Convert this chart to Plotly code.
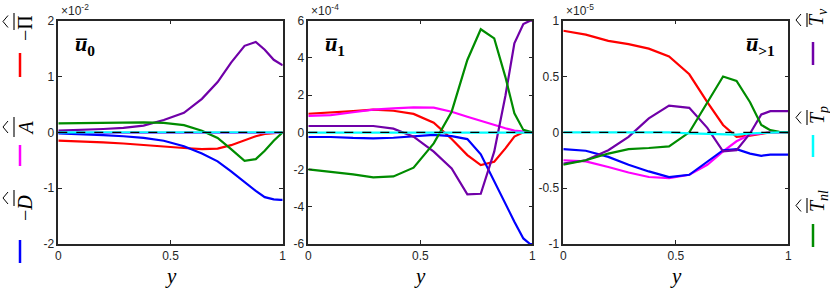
import plotly.graph_objects as go

# common wall-normal grid
y_grid = [0, 0.1, 0.2, 0.29, 0.38, 0.47, 0.56, 0.64, 0.71, 0.77, 0.83, 0.88, 0.92, 0.96, 0.99, 1.0]

# Panel u0 (x1e-2)
u0_D  = [-0.02, -0.03, -0.05, -0.07, -0.10, -0.15, -0.25, -0.38, -0.52, -0.70, -0.90, -1.05, -1.16, -1.20, -1.21, -1.21]
u0_A  = [-0.01]*16
u0_Pi = [-0.15, -0.16, -0.18, -0.20, -0.23, -0.26, -0.28, -0.30, -0.29, -0.23, -0.14, -0.07, -0.03, -0.01, 0.0, 0.0]
u0_Tv = [0.03, 0.04, 0.06, 0.08, 0.12, 0.22, 0.35, 0.60, 0.90, 1.25, 1.55, 1.62, 1.48, 1.30, 1.22, 1.20]
u0_Tp = [0.0]*16
u0_Tnl = [0.16, 0.165, 0.17, 0.175, 0.18, 0.17, 0.13, 0.03, -0.10, -0.30, -0.51, -0.48, -0.33, -0.15, -0.04, 0.0]

# Panel u1 (x1e-4)
u1_D  = [-0.25, -0.25, -0.30, -0.32, -0.29, -0.23, -0.14, -0.20, -0.36, -1.18, -2.65, -3.90, -4.80, -5.70, -6.0, -6.0]
u1_A  = [0.88, 0.93, 1.08, 1.22, 1.29, 1.34, 1.33, 1.11, 0.84, 0.61, 0.39, 0.22, 0.09, 0.04, 0.01, 0.0]
u1_Pi = [1.0, 1.06, 1.14, 1.22, 1.16, 0.99, 0.52, -0.36, -1.22, -1.76, -1.58, -0.86, -0.23, 0.0, 0.0, 0.0]
u1_Tv = [0.34, 0.34, 0.34, 0.34, 0.20, -0.23, -1.04, -1.94, -3.33, -3.30, -1.04, 1.97, 4.78, 5.82, 6.0, 6.0]
u1_Tp = [-0.02]*16
u1_Tnl = [-1.99, -2.11, -2.26, -2.42, -2.37, -1.90, -0.59, 1.11, 3.89, 5.54, 5.05, 2.97, 1.02, 0.13, 0.03, 0.0]

# Panel u>1 (x1e-5)
u2_D  = [-0.15, -0.165, -0.22, -0.29, -0.35, -0.40, -0.38, -0.26, -0.16, -0.15, -0.19, -0.21, -0.20, -0.20, -0.20, -0.20]
u2_A  = [-0.25, -0.26, -0.31, -0.36, -0.40, -0.41, -0.38, -0.29, -0.17, -0.08, -0.02, -0.01, 0.0, 0.0, 0.0, 0.0]
u2_Pi = [0.91, 0.875, 0.82, 0.79, 0.75, 0.68, 0.52, 0.27, 0.066, -0.04, -0.03, -0.01, 0.0, 0.0, 0.0, 0.0]
u2_Tv = [-0.28, -0.25, -0.16, -0.04, 0.125, 0.24, 0.22, 0.04, -0.17, -0.16, -0.01, 0.16, 0.19, 0.19, 0.19, 0.19]
u2_Tp = [0.0, 0.0, 0.0, 0.0, 0.0, 0.0, -0.01, -0.015, -0.02, -0.02, -0.01, -0.005, 0.0, 0.0, 0.0, 0.0]
u2_Tnl = [-0.29, -0.25, -0.19, -0.15, -0.14, -0.125, 0.0, 0.27, 0.50, 0.46, 0.27, 0.066, 0.02, 0.005, 0.0, 0.0]

x_ticks = [0, 0.5, 1]
x_ticktext = ["0", "0.5", "1"]
p1_ticks = [-2, -1, 0, 1, 2]
p2_ticks = [-6, -4, -2, 0, 2, 4, 6]
p3_ticks = [-1, -0.5, 0, 0.5, 1]
exponents = ["-2", "-4", "-5"]

COL = dict(D="#0000ff", A="#ff00ff", Pi="#ff0000", Tv="#7000a8", Tp="#00ffff", Tnl="#008c00")

panels = [
    dict(D=u0_D, A=u0_A, Pi=u0_Pi, Tv=u0_Tv, Tp=u0_Tp, Tnl=u0_Tnl, ticks=p1_ticks, rng=[-2, 2]),
    dict(D=u1_D, A=u1_A, Pi=u1_Pi, Tv=u1_Tv, Tp=u1_Tp, Tnl=u1_Tnl, ticks=p2_ticks, rng=[-6, 6]),
    dict(D=u2_D, A=u2_A, Pi=u2_Pi, Tv=u2_Tv, Tp=u2_Tp, Tnl=u2_Tnl, ticks=p3_ticks, rng=[-1, 1]),
]

W, H = 830, 291
xdoms = [[58.3/W, 282.7/W], [308.3/W, 532.3/W], [563.3/W, 788.3/W]]
ydom = [1 - 244/H, 1 - 20.7/H]

fig = go.Figure()
AXC = "#262626"
tickfont = dict(family="Liberation Sans, Arial, sans-serif", size=12, color=AXC)

for i, p in enumerate(panels):
    xa = "x" if i == 0 else "x%d" % (i + 1)
    ya = "y" if i == 0 else "y%d" % (i + 1)
    for key in ["Pi", "A", "D", "Tv", "Tnl", "Tp"]:
        fig.add_trace(go.Scatter(x=y_grid, y=p[key], mode="lines",
                                 line=dict(color=COL[key], width=2.2),
                                 xaxis=xa, yaxis=ya, showlegend=False, hoverinfo="skip"))
    axn = "" if i == 0 else str(i + 1)
    fig.layout["xaxis" + axn] = dict(domain=xdoms[i], range=[0, 1], anchor=ya, automargin=False,
        tickvals=x_ticks, ticktext=x_ticktext, ticks="inside", ticklen=4, tickcolor=AXC,
        showline=True, linecolor=AXC, linewidth=1.5, mirror="ticks", showgrid=False,
        zeroline=False, tickfont=tickfont)
    fig.layout["yaxis" + axn] = dict(domain=ydom, range=p["rng"], anchor=xa, automargin=False,
        tickvals=p["ticks"], ticktext=["%g" % t for t in p["ticks"]], ticks="inside", ticklen=4,
        tickcolor=AXC, showline=True, linecolor=AXC, linewidth=1.5, mirror="ticks",
        showgrid=False, zeroline=False, tickfont=tickfont)
    # dashed zero reference
    fig.add_shape(type="line", xref=xa + " domain", yref=ya, x0=0, x1=1, y0=0, y1=0,
                  line=dict(color="black", width=1.2, dash="dash"))
    # exponent label
    fig.add_annotation(xref="paper", yref="paper", x=xdoms[i][0] + 1/W, y=ydom[1] + 1/H,
                       xanchor="left", yanchor="bottom", showarrow=False,
                       text="×10<sup>%s</sup>" % exponents[i],
                       font=dict(family="Liberation Sans, Arial", size=12, color=AXC))
    # x-axis title
    fig.add_annotation(xref="paper", yref="paper", x=(xdoms[i][0] + xdoms[i][1]) / 2, y=1 - 276/H,
                       xanchor="center", yanchor="middle", showarrow=False,
                       text="<i>y</i>", font=dict(family="Liberation Serif, serif", size=21, color="black"))

serif = "Liberation Serif, DejaVu Serif, serif"
# panel labels
fig.add_annotation(xref="paper", yref="paper", x=73/W, y=1 - 45/H, xanchor="left", yanchor="middle",
                   showarrow=False, text="<b><i>u\u0305</i><sub>0</sub></b>",
                   font=dict(family=serif, size=22, color="black"))
fig.add_annotation(xref="paper", yref="paper", x=323/W, y=1 - 45/H, xanchor="left", yanchor="middle",
                   showarrow=False, text="<b><i>u\u0305</i><sub>1</sub></b>",
                   font=dict(family=serif, size=22, color="black"))
fig.add_annotation(xref="paper", yref="paper", x=777/W, y=1 - 45/H, xanchor="right", yanchor="middle",
                   showarrow=False, text="<b><i>u\u0305</i><sub>&gt;1</sub></b>",
                   font=dict(family=serif, size=22, color="black"))

# side legends: (text, text centre x, text-bottom y, letter top, letter bottom, bar x, hat tip x, colour key, seg x, seg y0, seg y1)
legend_items = [
    ("−Π", 25, 43, 13, 30, 14, 3, "Pi", 20, 53, 77),
    ("<i>A</i>", 25, 138, 117, 137, 14, 3, "A", 20, 145, 166),
    ("−<i>D</i>", 25, 223, 190, 206, 14, 3, "D", 20, 240, 263),
    ("<i>T</i><sub><i>v</i></sub>", 818, 28, 13, 27, 807, 796, "Tv", 813, 42, 65),
    ("<i>T</i><sub><i>p</i></sub>", 818, 126, 110, 125, 807, 796, "Tp", 813, 135, 157),
    ("<i>T</i><sub><i>nl</i></sub>", 818, 214, 198, 213, 807, 796, "Tnl", 813, 224, 247),
]
for txt, tx, tbot, lt, lb, bx, hx, key, lx, ly0, ly1 in legend_items:
    fig.add_annotation(xref="paper", yref="paper", x=tx/W, y=1 - tbot/H, xanchor="center",
                       yanchor="bottom", showarrow=False, text=txt, textangle=-90,
                       font=dict(family=serif, size=20, color="black"))
    # overline (drawn rotated, left of the letter)
    fig.add_shape(type="line", xref="paper", yref="paper", x0=bx/W, x1=bx/W,
                  y0=1 - lt/H, y1=1 - lb/H, line=dict(color="black", width=1.1))
    # wide hat (rotated)
    yc = (lt + lb) / 2
    path = "M %f,%f L %f,%f L %f,%f" % (
        (hx + 5)/W, 1 - (yc - 6)/H, hx/W, 1 - yc/H, (hx + 5)/W, 1 - (yc + 6)/H)
    fig.add_shape(type="path", xref="paper", yref="paper", path=path,
                  line=dict(color="black", width=1.0))
    fig.add_shape(type="line", xref="paper", yref="paper", x0=lx/W, x1=lx/W,
                  y0=1 - ly0/H, y1=1 - ly1/H, line=dict(color=COL[key], width=2.5))

fig.update_layout(template="none", width=W, height=H, autosize=False,
                  margin=dict(l=0, r=0, t=0, b=0, pad=0),
                  paper_bgcolor="white", plot_bgcolor="white", showlegend=False)

fig.write_html("out.html", config={"displayModeBar": False},
               post_script="document.body.style.margin='0';document.body.style.overflow='hidden';")
